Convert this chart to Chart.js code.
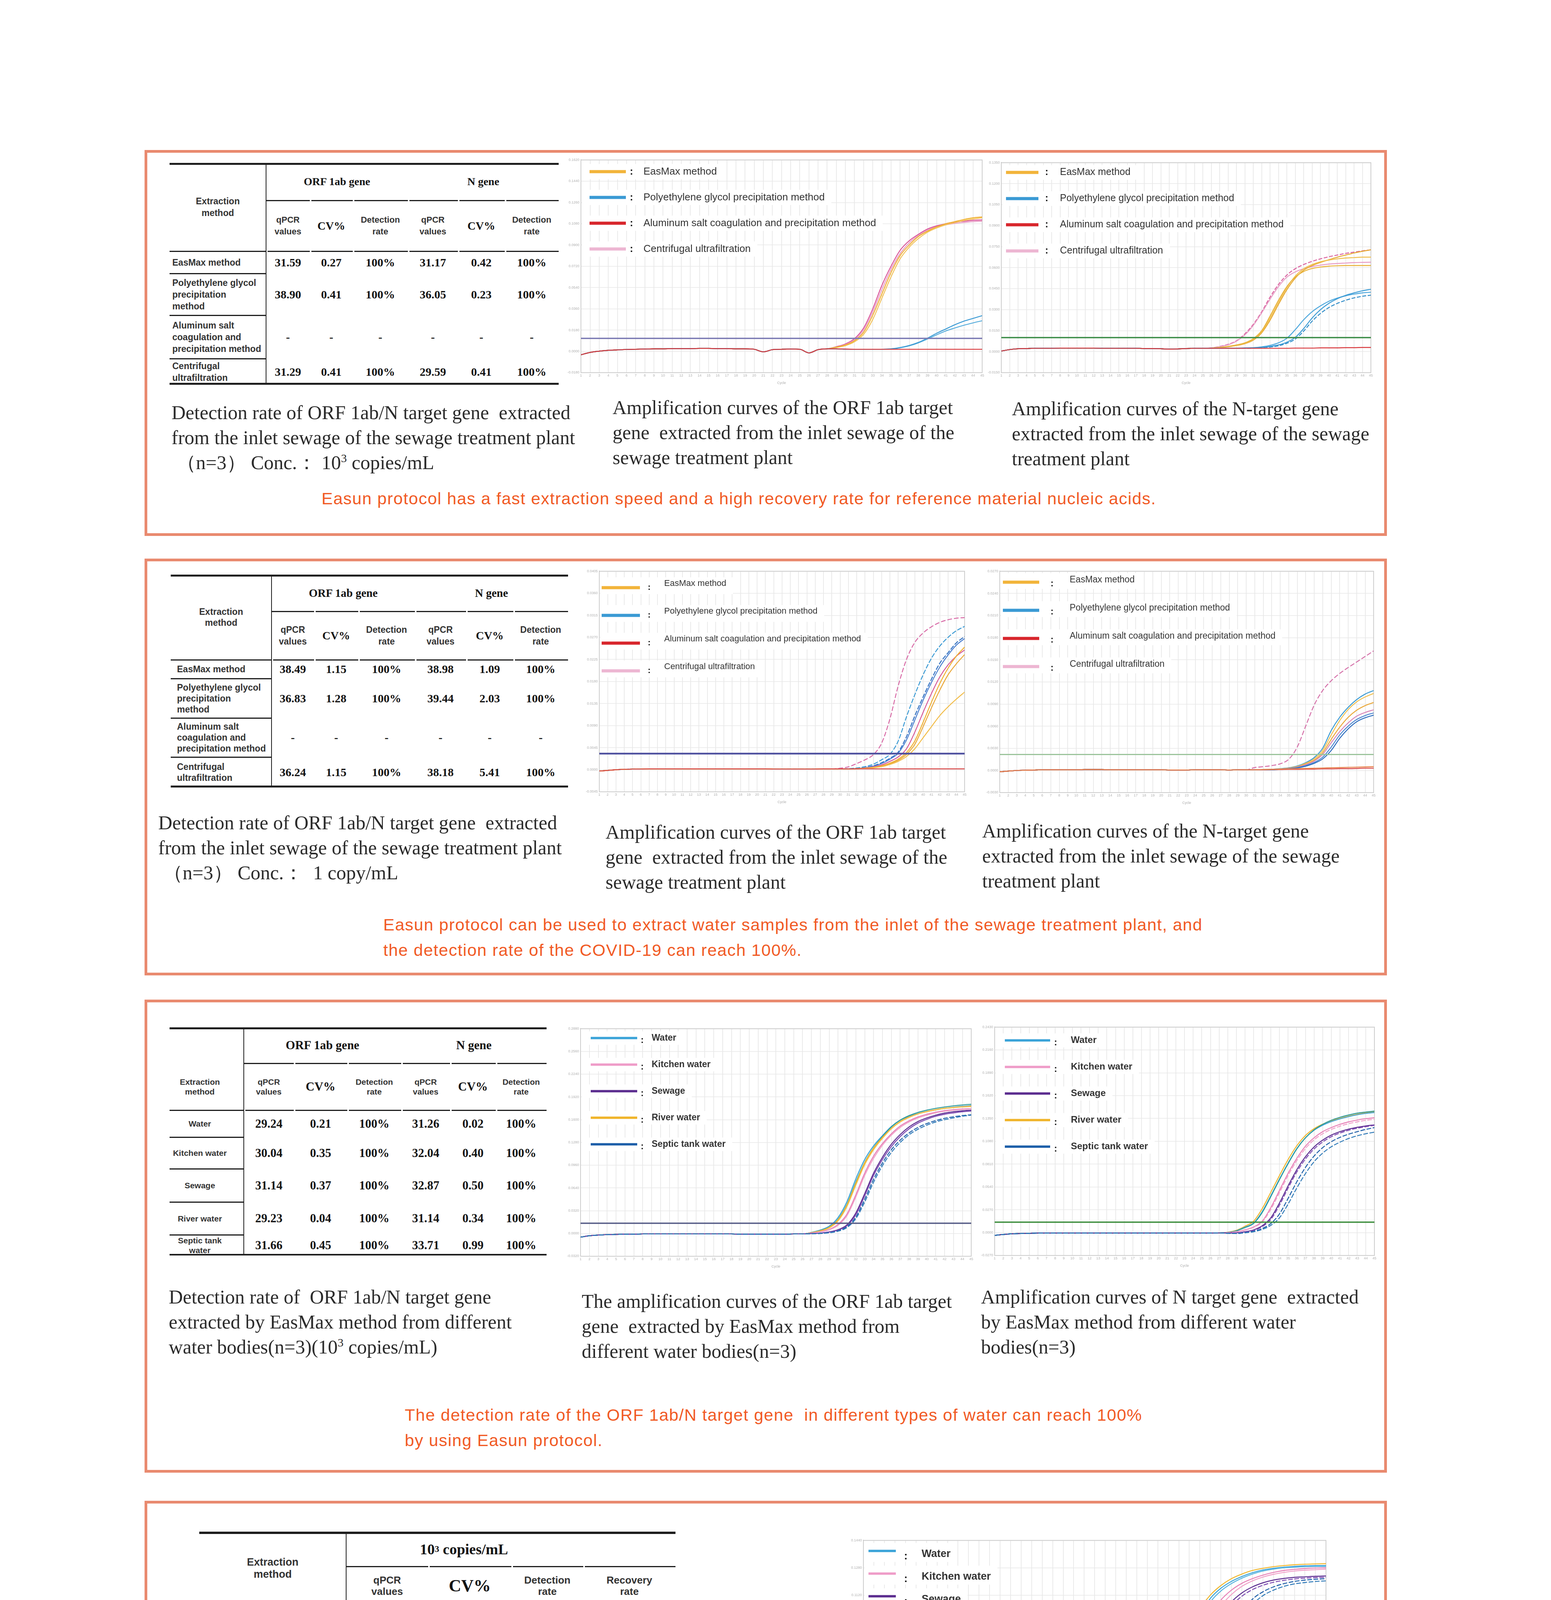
<!DOCTYPE html>
<html>
<head>
<meta charset="utf-8">
<title>Easun protocol - extraction results</title>
<script src="https://cdn.jsdelivr.net/npm/chart.js@4.4.1/dist/chart.umd.min.js"></script>
<style>
  html, body { margin: 0; padding: 0; background: #fff; }
  #page { position: relative; width: 3970px; height: 5386px; overflow: hidden; background: #fff; font-family: "Liberation Sans", Arial, sans-serif; }
  .panel { position: absolute; border: 7px solid #e98a6f; box-sizing: border-box; }
  .cap { position: absolute; font-family: "Liberation Serif", "Times New Roman", serif; font-size: 50px; line-height: 64px; color: #2b2b2b; white-space: nowrap; }
  .cap sup, .tt sup { font-size: 0.6em; line-height: 0; }
  .red { position: absolute; font-size: 43px; line-height: 65px; color: #f15a24; letter-spacing: 1.5px; white-space: nowrap; }
  .chart { position: absolute; }
  .tl { position: absolute; background: #1e1e1e; }
  .tt { position: absolute; display: flex; align-items: center; justify-content: center; text-align: center; white-space: pre; box-sizing: border-box; }
  .sans { font-family: "Liberation Sans", Arial, sans-serif; font-weight: bold; color: #333; }
  .serif { font-family: "Liberation Serif", "Times New Roman", serif; font-weight: bold; color: #141414; }
  #pnum { position: absolute; left: 3702px; top: 5129px; width: 74px; height: 73px; background: #e8836b; color: #fff; font: bold 44px "Liberation Sans", Arial, sans-serif; display: flex; align-items: center; justify-content: center; }
</style>
</head>
<body>
<div id="page">
  <div class="panel" style="left:370px;top:384px;width:3180px;height:988px"></div>
  <div class="panel" style="left:370px;top:1430px;width:3180px;height:1067px"></div>
  <div class="panel" style="left:370px;top:2559px;width:3180px;height:1211px"></div>
  <div class="panel" style="left:370px;top:3842px;width:3180px;height:1149px"></div>

  <div class="chart" style="left:1437px;top:400px;width:1085px;height:586px"><canvas id="p1a"></canvas></div>
  <div class="chart" style="left:2513px;top:407px;width:1004px;height:579px"><canvas id="p1b"></canvas></div>
  <div class="chart" style="left:1484px;top:1453px;width:993px;height:606px"><canvas id="p2a"></canvas></div>
  <div class="chart" style="left:2509px;top:1453px;width:1015px;height:608px"><canvas id="p2b"></canvas></div>
  <div class="chart" style="left:1436px;top:2624px;width:1058px;height:624px"><canvas id="p3a"></canvas></div>
  <div class="chart" style="left:2496px;top:2620px;width:1030px;height:626px"><canvas id="p3b"></canvas></div>
  <div class="chart" style="left:2160px;top:3934px;width:1242px;height:742px"><canvas id="p4"></canvas></div>

  <div class="cap" style="left:439px;top:1024px">Detection rate of ORF 1ab/N target gene&nbsp; extracted<br>from the inlet sewage of the sewage treatment plant<br>&nbsp;（n=3） Conc.： 10<sup>3</sup> copies/mL</div>
  <div class="cap" style="left:1568px;top:1011px">Amplification curves of the ORF 1ab target<br>gene&nbsp; extracted from the inlet sewage of the<br>sewage treatment plant</div>
  <div class="cap" style="left:2590px;top:1014px">Amplification curves of the N-target gene<br>extracted from the inlet sewage of the sewage<br>treatment plant</div>
  <div class="red" style="left:823px;top:1244px">Easun protocol has a fast extraction speed and a high recovery rate for reference material nucleic acids.</div>

  <div class="cap" style="left:405px;top:2074px">Detection rate of ORF 1ab/N target gene&nbsp; extracted<br>from the inlet sewage of the sewage treatment plant<br>&nbsp;（n=3） Conc.：&nbsp; 1 copy/mL</div>
  <div class="cap" style="left:1550px;top:2098px">Amplification curves of the ORF 1ab target<br>gene&nbsp; extracted from the inlet sewage of the<br>sewage treatment plant</div>
  <div class="cap" style="left:2514px;top:2095px">Amplification curves of the N-target gene<br>extracted from the inlet sewage of the sewage<br>treatment plant</div>
  <div class="red" style="left:981px;top:2335px">Easun protocol can be used to extract water samples from the inlet of the sewage treatment plant, and<br>the detection rate of the COVID-19 can reach 100%.</div>

  <div class="cap" style="left:432px;top:3288px">Detection rate of&nbsp; ORF 1ab/N target gene<br>extracted by EasMax method from different<br>water bodies(n=3)(10<sup>3</sup> copies/mL)</div>
  <div class="cap" style="left:1489px;top:3299px">The amplification curves of the ORF 1ab target<br>gene&nbsp; extracted by EasMax method from<br>different water bodies(n=3)</div>
  <div class="cap" style="left:2511px;top:3288px">Amplification curves of N target gene&nbsp; extracted<br>by EasMax method from different water<br>bodies(n=3)</div>
  <div class="red" style="left:1036px;top:3590px">The detection rate of the ORF 1ab/N target gene&nbsp; in different types of water can reach 100%<br>by using Easun protocol.</div>

  <div class="cap" style="left:556px;top:4681px">Detection of Monkeypox virus nucleic acid extracted by<br>EasMax method from different water bodies(n=3)</div>
  <div class="cap" style="left:2068px;top:4667px">Amplification curves of Monkeypox virus nucleic acid extracted<br>by EasMax method from different water bodies(n=3)</div>
  <div class="red" style="left:988px;top:4808px">Easun protocol can detecte different types of water samples, and the results show that the detection<br>rate of monkeypox virus in different types of water can reach 100%.</div>

  <div id="pnum">48</div>
</div>

<script>
// ---------- shared axis values ----------
const cycles = [1,2,3,4,5,6,7,8,9,10,11,12,13,14,15,16,17,18,19,20,21,22,23,24,25,26,27,28,29,30,31,32,33,34,35,36,37,38,39,40,41,42,43,44,45];

const methodNames = ['EasMax method', 'Polyethylene glycol precipitation method', 'Aluminum salt coagulation and precipitation method', 'Centrifugal ultrafiltration'];
const waterNames = ['Water', 'Kitchen water', 'Sewage', 'River water', 'Septic tank water'];
const monkeyNames = ['Water', 'Kitchen water', 'Sewage', 'River water', 'Septic tank water', 'Negative controls'];

// ---------- tables ----------
const t1Methods = ['EasMax method', 'Polyethylene glycol\nprecipitation\nmethod', 'Aluminum salt\ncoagulation and\nprecipitation method', 'Centrifugal\nultrafiltration'];
const t1Orf = [['31.59', '0.27', '100%'], ['38.90', '0.41', '100%'], ['-', '-', '-'], ['31.29', '0.41', '100%']];
const t1N = [['31.17', '0.42', '100%'], ['36.05', '0.23', '100%'], ['-', '-', '-'], ['29.59', '0.41', '100%']];

const t2Methods = ['EasMax method', 'Polyethylene glycol\nprecipitation\nmethod', 'Aluminum salt\ncoagulation and\nprecipitation method', 'Centrifugal\nultrafiltration'];
const t2Orf = [['38.49', '1.15', '100%'], ['36.83', '1.28', '100%'], ['-', '-', '-'], ['36.24', '1.15', '100%']];
const t2N = [['38.98', '1.09', '100%'], ['39.44', '2.03', '100%'], ['-', '-', '-'], ['38.18', '5.41', '100%']];

const t3Samples = ['Water', 'Kitchen water', 'Sewage', 'River water', 'Septic tank\nwater'];
const t3Orf = [['29.24', '0.21', '100%'], ['30.04', '0.35', '100%'], ['31.14', '0.37', '100%'], ['29.23', '0.04', '100%'], ['31.66', '0.45', '100%']];
const t3N = [['31.26', '0.02', '100%'], ['32.04', '0.40', '100%'], ['32.87', '0.50', '100%'], ['31.14', '0.34', '100%'], ['33.71', '0.99', '100%']];

const t4Samples = ['Water', 'Kitchen water', 'Sewage', 'River water', 'Septic tank\nwater'];
const t4Vals = [['26.68', '0.23', '100%', '84.20%'], ['27.48', '0.23', '100%', '48.28%'], ['28.68', '0.61', '100%', '22.17%'], ['26.32', '0.23', '100%', '106.90%'], ['30.01', '0.87', '100%', '9.24%']];

// ---------- panel 1, ORF 1ab curves (cycles 1-28 shared, then 29-45) ----------
const p1aYTicks = ['-0.0180', '0.0000', '0.0180', '0.0360', '0.0540', '0.0720', '0.0900', '0.1080', '0.1260', '0.1440', '0.1620'];
const p1aThreshold = 1.61;
const p1aBase = [0.84,0.95,1.01,1.05,1.07,1.09,1.1,1.11,1.12,1.12,1.13,1.13,1.13,1.14,1.14,1.13,1.13,1.12,1.12,1.1,0.98,1.08,1.1,1.11,1.1,0.93,1.08,1.12];
const p1aEasMax1 = [1.2,1.3,1.5,1.9,2.7,3.7,4.7,5.5,6.0,6.4,6.65,6.85,7.0,7.1,7.2,7.28,7.32];
const p1aEasMax2 = [1.18,1.27,1.45,1.8,2.5,3.5,4.5,5.35,5.9,6.3,6.6,6.8,6.95,7.05,7.15,7.22,7.28];
const p1aCentri1 = [1.22,1.35,1.6,2.1,3.0,4.1,5.0,5.75,6.2,6.5,6.75,6.9,7.0,7.08,7.12,7.16,7.18];
const p1aCentri2 = [1.2,1.32,1.55,2.0,2.85,3.9,4.85,5.6,6.1,6.45,6.7,6.85,6.95,7.02,7.06,7.1,7.12];
const p1aPeg1 = [1.12,1.1,1.1,1.1,1.1,1.1,1.12,1.18,1.28,1.42,1.62,1.85,2.05,2.25,2.42,2.55,2.68];
const p1aPeg2 = [1.12,1.1,1.1,1.1,1.1,1.1,1.11,1.17,1.26,1.4,1.58,1.78,1.96,2.1,2.23,2.34,2.44];
const p1aAlum = [1.12,1.11,1.1,1.1,1.1,1.1,1.1,1.1,1.1,1.1,1.1,1.1,1.1,1.1,1.1,1.1,1.1];

// ---------- panel 1, N gene curves (cycles 1-25 shared, then 26-45) ----------
const p1bYTicks = ['-0.0150', '0.0000', '0.0150', '0.0300', '0.0450', '0.0600', '0.0750', '0.0900', '0.1050', '0.1200', '0.1350'];
const p1bThreshold = 1.67;
const p1bBase = [1.03,1.1,1.14,1.15,1.16,1.16,1.16,1.17,1.17,1.17,1.17,1.17,1.16,1.16,1.16,1.16,1.16,1.15,1.15,1.14,1.12,1.13,1.15,1.16,1.16];
const p1bCentri1 = [1.18,1.25,1.35,1.52,1.85,2.3,2.9,3.6,4.2,4.65,4.95,5.15,5.3,5.42,5.52,5.6,5.68,5.74,5.8,5.85];
const p1bCentri2 = [1.18,1.24,1.33,1.5,1.8,2.25,2.85,3.5,4.1,4.55,4.8,4.95,5.05,5.12,5.17,5.2,5.22,5.24,5.25,5.26];
const p1bEasMax1 = [1.17,1.2,1.25,1.32,1.42,1.62,2.0,2.7,3.45,4.1,4.55,4.82,4.96,5.03,5.07,5.09,5.1,5.1,5.1,5.1];
const p1bEasMax2 = [1.17,1.2,1.24,1.3,1.4,1.58,1.95,2.6,3.35,4.05,4.6,4.95,5.15,5.28,5.36,5.42,5.46,5.48,5.5,5.5];
const p1bEasMax3 = [1.17,1.19,1.23,1.29,1.38,1.55,1.9,2.5,3.25,3.95,4.5,4.88,5.1,5.25,5.38,5.5,5.6,5.7,5.78,5.85];
const p1bPeg1 = [1.16,1.16,1.16,1.16,1.17,1.18,1.2,1.25,1.32,1.45,1.68,2.1,2.6,3.0,3.3,3.52,3.68,3.8,3.9,3.97];
const p1bPeg2 = [1.16,1.16,1.16,1.17,1.18,1.19,1.23,1.3,1.42,1.64,2.05,2.52,2.9,3.18,3.4,3.55,3.66,3.74,3.8,3.83];
const p1bPeg3 = [1.16,1.16,1.16,1.16,1.16,1.17,1.19,1.22,1.28,1.4,1.6,1.98,2.45,2.82,3.1,3.3,3.45,3.56,3.64,3.69];
const p1bAlum = [1.16,1.16,1.16,1.16,1.16,1.16,1.16,1.16,1.16,1.16,1.17,1.17,1.17,1.18,1.18,1.18,1.19,1.19,1.2,1.2];

// ---------- panel 2, ORF 1ab curves (cycles 1-29 shared, then 30-45) ----------
const p2aYTicks = ['-0.0045', '0.0000', '0.0045', '0.0090', '0.0135', '0.0180', '0.0225', '0.0270', '0.0315', '0.0360', '0.0405'];
const p2aThreshold = 1.73;
const p2aBase = [0.94,0.97,1.0,1.02,1.03,1.03,1.04,1.04,1.04,1.04,1.04,1.04,1.04,1.04,1.04,1.04,1.04,1.04,1.04,1.04,1.04,1.03,1.03,1.03,1.03,1.03,1.03,1.04,1.04];
const p2aCentri1 = [1.07,1.13,1.28,1.45,1.68,2.2,3.3,4.8,6.0,6.77,7.2,7.48,7.68,7.8,7.87,7.9];
const p2aCentri2 = [1.04,1.04,1.05,1.08,1.13,1.22,1.38,1.58,1.95,2.7,3.6,4.45,5.2,5.75,6.15,6.43];
const p2aPeg1 = [1.04,1.05,1.08,1.14,1.25,1.45,1.7,2.3,3.4,4.4,5.3,6.05,6.6,7.0,7.3,7.5];
const p2aPeg2 = [1.04,1.04,1.06,1.1,1.18,1.32,1.52,1.8,2.5,3.44,4.3,5.1,5.82,6.3,6.75,7.04];
const p2aPeg3 = [1.04,1.04,1.05,1.09,1.16,1.28,1.48,1.75,2.35,3.25,4.15,4.95,5.65,6.2,6.65,6.95];
const p2aEasMax1 = [1.04,1.04,1.05,1.07,1.11,1.18,1.3,1.48,1.78,2.3,3.15,4.05,4.9,5.6,6.15,6.56];
const p2aEasMax2 = [1.04,1.04,1.04,1.06,1.1,1.16,1.27,1.43,1.7,2.15,2.95,3.8,4.6,5.3,5.8,6.22];
const p2aEasMax3 = [1.04,1.04,1.04,1.06,1.09,1.14,1.24,1.38,1.6,1.95,2.45,2.95,3.45,3.85,4.2,4.52];
const p2aAlum = [1.04,1.04,1.04,1.04,1.04,1.04,1.04,1.04,1.04,1.04,1.04,1.04,1.04,1.04,1.04,1.04];

// ---------- panel 2, N gene curves (cycles 1-30 shared, then 31-45) ----------
const p2bYTicks = ['-0.0030', '0.0000', '0.0030', '0.0060', '0.0090', '0.0120', '0.0150', '0.0180', '0.0210', '0.0240', '0.0270'];
const p2bThreshold = 1.72;
const p2bBase = [0.94,0.97,1.0,1.01,1.02,1.03,1.03,1.03,1.03,1.03,1.04,1.04,1.04,1.03,1.03,1.03,1.03,1.03,1.03,1.03,1.02,1.02,1.02,1.03,1.03,1.03,1.03,1.02,1.03,1.03];
const p2bCentri1 = [1.13,1.17,1.22,1.3,1.5,2.05,3.0,3.95,4.61,5.05,5.38,5.65,5.9,6.15,6.4];
const p2bCentri2 = [1.03,1.03,1.04,1.06,1.09,1.15,1.26,1.42,1.72,2.25,2.75,3.15,3.45,3.62,3.74];
const p2bPeg1 = [1.03,1.04,1.05,1.08,1.12,1.2,1.35,1.58,2.0,2.8,3.4,3.85,4.2,4.45,4.61];
const p2bPeg2 = [1.03,1.03,1.04,1.05,1.08,1.13,1.22,1.36,1.6,2.05,2.6,3.0,3.3,3.48,3.6];
const p2bPeg3 = [1.03,1.03,1.03,1.05,1.07,1.11,1.19,1.32,1.52,1.9,2.45,2.88,3.2,3.38,3.5];
const p2bEasMax1 = [1.03,1.04,1.05,1.07,1.11,1.18,1.32,1.52,1.9,2.6,3.25,3.75,4.1,4.32,4.48];
const p2bEasMax2 = [1.03,1.03,1.04,1.06,1.1,1.16,1.28,1.46,1.8,2.4,2.95,3.4,3.72,3.93,4.07];
const p2bAlum1 = [1.03,1.03,1.04,1.04,1.05,1.05,1.06,1.06,1.07,1.07,1.08,1.08,1.09,1.1,1.1];
const p2bAlum2 = [1.03,1.04,1.05,1.06,1.07,1.08,1.09,1.1,1.11,1.12,1.13,1.14,1.15,1.16,1.17];

// ---------- panel 3, ORF 1ab curves (cycles 1-26 shared, then 27-45) ----------
const p3aYTicks = ['-0.0320', '0.0000', '0.0320', '0.0640', '0.0960', '0.1280', '0.1600', '0.1920', '0.2240', '0.2560', '0.2880'];
const p3aThreshold = 1.45;
const p3aBase = [0.84,0.9,0.93,0.95,0.96,0.97,0.97,0.98,0.98,0.98,0.98,0.98,0.98,0.98,0.98,0.98,0.98,0.98,0.97,0.97,0.97,0.97,0.97,0.97,0.98,0.98];
const p3aWater1 = [1.05,1.15,1.32,1.7,2.4,3.4,4.25,4.85,5.3,5.7,5.98,6.15,6.27,6.36,6.43,6.5,6.55,6.59,6.62];
const p3aWater2 = [1.04,1.13,1.28,1.62,2.28,3.25,4.12,4.76,5.25,5.68,5.98,6.18,6.32,6.42,6.5,6.56,6.61,6.65,6.68];
const p3aKitchen1 = [1.02,1.08,1.18,1.4,1.85,2.7,3.65,4.4,4.95,5.38,5.72,5.95,6.12,6.24,6.33,6.4,6.44,6.47,6.49];
const p3aKitchen2 = [1.02,1.07,1.16,1.36,1.78,2.6,3.55,4.3,4.88,5.32,5.66,5.9,6.08,6.2,6.3,6.37,6.42,6.45,6.48];
const p3aSewage1 = [1.0,1.02,1.07,1.17,1.38,1.9,2.75,3.65,4.35,4.92,5.35,5.68,5.92,6.08,6.2,6.29,6.35,6.39,6.42];
const p3aSewage2 = [1.0,1.02,1.06,1.15,1.34,1.82,2.65,3.55,4.25,4.82,5.26,5.6,5.85,6.02,6.15,6.24,6.3,6.35,6.38];
const p3aRiver1 = [1.04,1.12,1.27,1.6,2.25,3.2,4.1,4.75,5.22,5.62,5.92,6.12,6.26,6.36,6.44,6.5,6.54,6.57,6.6];
const p3aRiver2 = [1.03,1.1,1.24,1.55,2.18,3.12,4.02,4.68,5.18,5.6,5.9,6.1,6.25,6.35,6.43,6.49,6.53,6.56,6.58];
const p3aSeptic1 = [0.99,1.0,1.04,1.12,1.3,1.72,2.5,3.38,4.1,4.68,5.1,5.42,5.66,5.83,5.96,6.06,6.13,6.18,6.22];
const p3aSeptic2 = [0.99,1.0,1.03,1.1,1.26,1.65,2.38,3.25,3.98,4.56,5.0,5.34,5.58,5.76,5.9,6.0,6.08,6.15,6.2];

// ---------- panel 3, N gene curves (cycles 1-27 shared, then 28-45) ----------
const p3bYTicks = ['-0.0270', '0.0000', '0.0270', '0.0540', '0.0810', '0.1080', '0.1350', '0.1620', '0.1890', '0.2160', '0.2430'];
const p3bThreshold = 1.46;
const p3bBase = [0.88,0.92,0.95,0.96,0.97,0.98,0.98,0.98,0.98,0.98,0.98,0.98,0.98,0.98,0.98,0.98,0.98,0.98,0.98,0.98,0.98,0.98,0.98,0.98,0.98,0.98,0.99];
const p3bWater1 = [1.01,1.08,1.24,1.42,1.92,2.62,3.35,4.05,4.68,5.15,5.48,5.7,5.86,5.98,6.08,6.16,6.22,6.26];
const p3bWater2 = [1.01,1.08,1.22,1.4,1.88,2.58,3.32,4.02,4.66,5.15,5.5,5.74,5.92,6.05,6.15,6.23,6.28,6.32];
const p3bKitchen1 = [1.0,1.04,1.12,1.25,1.5,2.1,2.85,3.6,4.25,4.78,5.15,5.42,5.6,5.74,5.85,5.93,5.99,6.03];
const p3bKitchen2 = [1.0,1.04,1.11,1.23,1.46,2.02,2.75,3.5,4.15,4.68,5.06,5.33,5.52,5.66,5.77,5.85,5.92,5.96];
const p3bSewage1 = [0.98,0.99,1.04,1.12,1.3,1.65,2.3,3.05,3.75,4.32,4.75,5.05,5.27,5.42,5.53,5.61,5.67,5.72];
const p3bSewage2 = [0.98,0.99,1.03,1.1,1.26,1.58,2.2,2.95,3.65,4.22,4.66,4.97,5.2,5.36,5.48,5.57,5.64,5.7];
const p3bRiver = [1.02,1.1,1.28,1.5,2.05,2.77,3.5,4.2,4.8,5.25,5.55,5.75,5.9,6.0,6.1,6.18,6.25,6.3];
const p3bSeptic1 = [0.97,0.96,1.0,1.06,1.18,1.4,1.82,2.5,3.22,3.85,4.35,4.72,4.98,5.17,5.31,5.42,5.52,5.6];
const p3bSeptic2 = [0.97,0.96,0.99,1.04,1.14,1.32,1.65,2.25,2.95,3.58,4.1,4.48,4.76,4.96,5.12,5.24,5.33,5.4];

// ---------- panel 4, monkeypox curves (cycles 1-22 shared, then 23-45) ----------
const p4YTicks = ['-0.0160', '0.0000', '0.0160', '0.0320', '0.0480', '0.0640', '0.0800', '0.0960', '0.1120', '0.1280', '0.1440'];
const p4Threshold = 1.54;
const p4Base = [0.9,0.93,0.95,0.96,0.97,0.97,0.97,0.97,0.97,0.97,0.97,0.97,0.97,0.97,0.99,1.08,0.99,0.97,0.97,0.96,0.96,0.96];
const p4Water1 = [1.0,0.99,1.06,1.27,1.65,2.3,3.05,4.05,5.2,6.3,7.28,7.88,8.25,8.5,8.68,8.82,8.92,8.98,9.02,9.05,9.07,9.08,9.08];
const p4Water2 = [0.99,0.98,1.04,1.22,1.55,2.15,2.85,3.8,4.95,6.05,7.1,7.75,8.15,8.42,8.62,8.77,8.88,8.95,9.0,9.02,9.04,9.05,9.05];
const p4Kitchen1 = [0.99,0.98,1.02,1.13,1.35,1.75,2.4,3.25,4.35,5.45,6.5,7.3,7.82,8.18,8.43,8.6,8.73,8.83,8.9,8.94,8.97,8.99,9.0];
const p4Kitchen2 = [0.98,0.97,1.0,1.08,1.25,1.52,2.05,2.8,3.8,4.9,6.0,6.95,7.6,8.02,8.32,8.52,8.66,8.76,8.83,8.88,8.91,8.93,8.95];
const p4Sewage1 = [0.97,0.96,0.98,1.04,1.16,1.38,1.78,2.45,3.35,4.4,5.5,6.5,7.25,7.75,8.08,8.3,8.45,8.55,8.61,8.65,8.67,8.69,8.7];
const p4Sewage2 = [0.97,0.96,0.98,1.03,1.13,1.32,1.66,2.25,3.1,4.12,5.22,6.25,7.05,7.6,7.96,8.2,8.36,8.47,8.54,8.59,8.62,8.64,8.65];
const p4River = [1.02,1.0,1.1,1.35,1.78,2.5,3.3,4.35,5.5,6.55,7.48,8.0,8.35,8.6,8.77,8.9,8.98,9.04,9.08,9.11,9.13,9.14,9.15];
const p4Septic1 = [0.96,0.95,0.96,0.98,1.02,1.1,1.25,1.52,1.98,2.7,3.65,4.75,5.85,6.75,7.4,7.85,8.12,8.3,8.42,8.5,8.55,8.58,8.6];
const p4Septic2 = [0.96,0.95,0.96,0.97,1.0,1.06,1.18,1.4,1.78,2.4,3.3,4.38,5.5,6.45,7.15,7.65,7.98,8.18,8.32,8.41,8.46,8.5,8.52];
const p4Negative = [0.96,0.96,0.96,0.96,0.96,0.97,0.99,1.07,0.99,0.98,0.98,0.98,0.99,0.99,0.99,0.99,1.0,1.0,1.0,1.0,1.0,1.0,1.0];

// ---------- styles ----------
const methodColors = ['#f2b43a', '#3a9ad4', '#d8262c', '#edb6d2'];
const waterColors = ['#3aa3d8', '#ef9cc8', '#5b2c8f', '#f0b429', '#1c5ea8', '#2ea84a'];
const FONT = '"Liberation Sans", Arial, sans-serif';
Chart.defaults.font.family = FONT;

const page = document.getElementById('page');

// legend drawn inside the plot area, top-left, with white mask behind rows
const insideLegend = {
  id: 'insideLegend',
  beforeDatasetsDraw(chart, args, o) {
    if (!o || !o.items) return;
    const {ctx, chartArea: a} = chart;
    const face = (o.bold ? 'bold ' : '') + o.size + 'px ' + FONT;
    ctx.save();
    ctx.textBaseline = 'middle';
    o.items.forEach((it, i) => {
      const cy = a.top + o.y0 + i * o.gap;
      ctx.font = face;
      const w = ctx.measureText(it.label).width;
      ctx.fillStyle = '#ffffff';
      const top = cy - o.size * 0.75 + Math.min(0, o.textDy);
      ctx.fillRect(a.left + 3, top, o.textX + w + 14, o.size * 1.5 + Math.abs(o.textDy));
      ctx.fillStyle = it.color;
      ctx.fillRect(a.left + o.barX, cy - o.barH / 2, o.barW, o.barH);
      ctx.fillStyle = '#111';
      ctx.font = 'bold ' + o.size + 'px ' + FONT;
      ctx.fillText(':', a.left + o.colonX, cy + (o.colonDy || 0));
      ctx.font = face;
      ctx.fillStyle = '#333';
      ctx.fillText(it.label, a.left + o.textX, cy + o.textDy);
    });
    ctx.restore();
  }
};

// light frame round the plot area
const plotFrame = {
  id: 'plotFrame',
  beforeDatasetsDraw(chart) {
    const {ctx, chartArea: a} = chart;
    ctx.save();
    ctx.strokeStyle = '#cdcdcd';
    ctx.lineWidth = 2;
    ctx.strokeRect(a.left, a.top, a.right - a.left, a.bottom - a.top);
    ctx.restore();
  }
};
Chart.register(insideLegend, plotFrame);

function ampChart(id, spec) {
  const datasets = [{
    data: [{x: 1, y: spec.threshold}, {x: 45, y: spec.threshold}],
    borderColor: spec.thrColor, borderWidth: spec.thrWidth, pointRadius: 0
  }];
  spec.curves.forEach(c => datasets.push({
    data: c.base.concat(c.tail),
    borderColor: c.color,
    borderWidth: 2.4,
    borderDash: c.dash || [],
    pointRadius: 0,
    cubicInterpolationMode: 'monotone'
  }));
  const yTicks = spec.yTicks;
  new Chart(document.getElementById(id), {
    type: 'line',
    data: {labels: cycles, datasets},
    options: {
      animation: false,
      responsive: true,
      maintainAspectRatio: false,
      devicePixelRatio: 1,
      layout: {padding: {top: 8, right: 8, left: 0, bottom: 0}},
      plugins: {
        legend: {display: false},
        tooltip: {enabled: false},
        insideLegend: spec.legend
      },
      scales: {
        x: {
          type: 'linear', min: 1, max: 45,
          afterFit: s => { s.height = 32; },
          ticks: {stepSize: 1, autoSkip: false, maxRotation: 0, font: {size: 9}, color: '#b0b0b0', padding: 2},
          grid: {color: '#e3e3e3', lineWidth: 1.5, drawTicks: false},
          border: {color: '#9a9a9a', width: 2},
          title: {display: true, text: 'Cycle', font: {size: 9}, color: '#aaa', padding: 0}
        },
        y: {
          min: 0, max: 10,
          afterFit: s => { s.width = 50; },
          ticks: {stepSize: 1, font: {size: 9}, color: '#b0b0b0', padding: 4, callback: (v, i) => yTicks[i]},
          grid: {color: '#e8e8e8', lineWidth: 1.5, drawTicks: false},
          border: {color: '#9a9a9a', width: 2}
        }
      }
    }
  });
}

function legendItems(names, colors) {
  return names.map((n, i) => ({label: n, color: colors[i]}));
}

// ---------- charts ----------
ampChart('p1a', {
  threshold: p1aThreshold, thrColor: '#7c7bb4', thrWidth: 3.5, yTicks: p1aYTicks,
  legend: {items: legendItems(methodNames, methodColors), barX: 22, barW: 93, barH: 8, colonX: 125, textX: 160, y0: 30, gap: 66, size: 26, bold: false, textDy: 0},
  curves: [
    {base: p1aBase, tail: p1aAlum, color: '#d8383c'},
    {base: p1aBase, tail: p1aPeg1, color: '#3a9ad4'},
    {base: p1aBase, tail: p1aPeg2, color: '#5aaedc'},
    {base: p1aBase, tail: p1aEasMax1, color: '#f0b030'},
    {base: p1aBase, tail: p1aEasMax2, color: '#f2c25a'},
    {base: p1aBase, tail: p1aCentri2, color: '#e79cc4'},
    {base: p1aBase, tail: p1aCentri1, color: '#d9549a'}
  ]
});

ampChart('p1b', {
  threshold: p1bThreshold, thrColor: '#3e8e4a', thrWidth: 3.5, yTicks: p1bYTicks,
  legend: {items: legendItems(methodNames, methodColors), barX: 12, barW: 83, barH: 8, colonX: 112, textX: 150, y0: 25, gap: 67, size: 25, bold: false, textDy: 0},
  curves: [
    {base: p1bBase, tail: p1bAlum, color: '#d8383c'},
    {base: p1bBase, tail: p1bPeg1, color: '#3a9ad4'},
    {base: p1bBase, tail: p1bPeg2, color: '#4aa6dc'},
    {base: p1bBase, tail: p1bPeg3, color: '#2f8cc8', dash: [10, 4]},
    {base: p1bBase, tail: p1bEasMax1, color: '#e8b23a'},
    {base: p1bBase, tail: p1bEasMax2, color: '#f0bf50'},
    {base: p1bBase, tail: p1bEasMax3, color: '#e6a830'},
    {base: p1bBase, tail: p1bCentri2, color: '#e79cc4'},
    {base: p1bBase, tail: p1bCentri1, color: '#d9609e', dash: [10, 4]}
  ]
});

ampChart('p2a', {
  threshold: p2aThreshold, thrColor: '#5052a0', thrWidth: 4.5, yTicks: p2aYTicks,
  legend: {items: legendItems(methodNames, methodColors), barX: 6, barW: 98, barH: 8, colonX: 124, textX: 166, y0: 42, gap: 71, size: 22, bold: false, textDy: -10, colonDy: 0},
  curves: [
    {base: p2aBase, tail: p2aAlum, color: '#d84a4a'},
    {base: p2aBase, tail: p2aEasMax3, color: '#f2bd4a'},
    {base: p2aBase, tail: p2aEasMax2, color: '#eaa83a'},
    {base: p2aBase, tail: p2aEasMax1, color: '#f0b030'},
    {base: p2aBase, tail: p2aCentri2, color: '#d65a9a'},
    {base: p2aBase, tail: p2aPeg3, color: '#4a7fd0'},
    {base: p2aBase, tail: p2aPeg2, color: '#2f6fc0', dash: [12, 4]},
    {base: p2aBase, tail: p2aPeg1, color: '#3a9ad4', dash: [12, 4]},
    {base: p2aBase, tail: p2aCentri1, color: '#d86aa6', dash: [12, 5]}
  ]
});

ampChart('p2b', {
  threshold: p2bThreshold, thrColor: '#9bc49b', thrWidth: 3, yTicks: p2bYTicks,
  legend: {items: legendItems(methodNames, methodColors), barX: 8, barW: 93, barH: 8, colonX: 130, textX: 179, y0: 28, gap: 72, size: 23, bold: false, textDy: -6, colonDy: 4},
  curves: [
    {base: p2bBase, tail: p2bAlum2, color: '#e8804a'},
    {base: p2bBase, tail: p2bAlum1, color: '#d84a4a'},
    {base: p2bBase, tail: p2bPeg3, color: '#2f6fc0'},
    {base: p2bBase, tail: p2bPeg2, color: '#4a86d0'},
    {base: p2bBase, tail: p2bCentri2, color: '#d886b8'},
    {base: p2bBase, tail: p2bEasMax2, color: '#eaa83a'},
    {base: p2bBase, tail: p2bEasMax1, color: '#f0bf50'},
    {base: p2bBase, tail: p2bPeg1, color: '#3a9ad4'},
    {base: p2bBase, tail: p2bCentri1, color: '#d46fa8', dash: [12, 5]}
  ]
});

ampChart('p3a', {
  threshold: p3aThreshold, thrColor: '#565c86', thrWidth: 3.5, yTicks: p3aYTicks,
  legend: {items: legendItems(waterNames, waterColors), barX: 26, barW: 119, barH: 6, colonX: 154, textX: 182, y0: 24, gap: 68, size: 23, bold: true, textDy: 0, colonDy: 6},
  curves: [
    {base: p3aBase, tail: p3aSeptic2, color: '#2f7ab8', dash: [12, 4]},
    {base: p3aBase, tail: p3aSeptic1, color: '#1c5ea8', dash: [12, 4]},
    {base: p3aBase, tail: p3aSewage2, color: '#7a48b0'},
    {base: p3aBase, tail: p3aSewage1, color: '#5b2c8f'},
    {base: p3aBase, tail: p3aKitchen2, color: '#f0a0c8'},
    {base: p3aBase, tail: p3aKitchen1, color: '#e77fb6'},
    {base: p3aBase, tail: p3aRiver2, color: '#f2c050'},
    {base: p3aBase, tail: p3aRiver1, color: '#f0b429'},
    {base: p3aBase, tail: p3aWater2, color: '#2f9a9a'},
    {base: p3aBase, tail: p3aWater1, color: '#3aa3d8'}
  ]
});

ampChart('p3b', {
  threshold: p3bThreshold, thrColor: '#3f8f3f', thrWidth: 3.5, yTicks: p3bYTicks,
  legend: {items: legendItems(waterNames, waterColors), barX: 26, barW: 116, barH: 6, colonX: 152, textX: 195, y0: 34, gap: 68, size: 24, bold: true, textDy: 0, colonDy: 6},
  curves: [
    {base: p3bBase, tail: p3bSeptic2, color: '#2f7ab8', dash: [12, 4]},
    {base: p3bBase, tail: p3bSeptic1, color: '#1c5ea8', dash: [12, 4]},
    {base: p3bBase, tail: p3bSewage2, color: '#7a48b0', dash: [12, 4]},
    {base: p3bBase, tail: p3bSewage1, color: '#5b2c8f'},
    {base: p3bBase, tail: p3bKitchen2, color: '#f0a0c8', dash: [12, 4]},
    {base: p3bBase, tail: p3bKitchen1, color: '#e77fb6'},
    {base: p3bBase, tail: p3bWater2, color: '#2f9a9a'},
    {base: p3bBase, tail: p3bWater1, color: '#3aa3d8'},
    {base: p3bBase, tail: p3bRiver, color: '#f0b429'}
  ]
});

ampChart('p4', {
  threshold: p4Threshold, thrColor: '#2e3c9c', thrWidth: 4.5, yTicks: p4YTicks,
  legend: {items: legendItems(monkeyNames, waterColors), barX: 13, barW: 70, barH: 6, colonX: 104, textX: 149, y0: 27, gap: 58, size: 27, bold: true, textDy: 8, colonDy: 14},
  curves: [
    {base: p4Base, tail: p4Negative, color: '#2ea84a'},
    {base: p4Base, tail: p4Septic2, color: '#2f7ab8', dash: [12, 4]},
    {base: p4Base, tail: p4Septic1, color: '#1c5ea8', dash: [12, 4]},
    {base: p4Base, tail: p4Sewage2, color: '#7a48b0', dash: [12, 4]},
    {base: p4Base, tail: p4Sewage1, color: '#5b2c8f'},
    {base: p4Base, tail: p4Kitchen2, color: '#f0a0c8'},
    {base: p4Base, tail: p4Kitchen1, color: '#e77fb6'},
    {base: p4Base, tail: p4Water2, color: '#5ab4e0'},
    {base: p4Base, tail: p4Water1, color: '#3aa3d8'},
    {base: p4Base, tail: p4River, color: '#f0b429'}
  ]
});

// ---------- tables ----------
function grid(g) {
  const xs = [g.left], ys = [g.top];
  g.cols.forEach(w => xs.push(xs[xs.length - 1] + w));
  g.rows.forEach(h => ys.push(ys[ys.length - 1] + h));
  const add = (cls, css, html) => {
    const d = document.createElement('div');
    d.className = cls;
    for (const k in css) d.style[k] = typeof css[k] === 'number' ? css[k] + 'px' : css[k];
    if (html !== undefined) d.innerHTML = html;
    page.appendChild(d);
  };
  const seg = (c0, c1, y, w) => {
    for (let c = c0; c < c1; c++) {
      const gap = c > c0 ? 4 : 0;
      add('tl', {left: xs[c] + gap, top: y - w / 2, width: xs[c + 1] - xs[c] - gap, height: w});
    }
  };
  const cell = (c0, c1, r0, r1, html, cls, css) =>
    add('tt ' + cls, Object.assign({left: xs[c0], top: ys[r0], width: xs[c1] - xs[c0], height: ys[r1] - ys[r0]}, css || {}), html);
  const frame = () => {
    const nc = g.cols.length, nr = g.rows.length;
    add('tl', {left: xs[0], top: ys[0], width: xs[nc] - xs[0], height: g.topW});
    add('tl', {left: xs[0], top: ys[nr] - g.botW, width: xs[nc] - xs[0], height: g.botW});
    add('tl', {left: xs[1] - 1, top: ys[0], width: 2, height: ys[nr] - ys[0]});
    seg(1, nc, ys[1], g.midW);
    seg(0, nc, ys[2], g.midW);
    for (let r = 3; r < nr; r++) seg(0, 1, ys[r], g.midW);
  };
  return {xs, ys, add, seg, cell, frame};
}

function geneTable(g, labels, orf, n) {
  const t = grid(g);
  t.frame();
  const lab = {fontSize: g.fsLabel, lineHeight: g.lhLabel};
  t.cell(0, 1, g.headRow0, 2, 'Extraction\nmethod', 'sans', Object.assign({paddingRight: g.labelPadR || 0}, lab));
  t.cell(1, 4, 0, 1, 'ORF 1ab gene', 'serif', {fontSize: g.fsGene});
  t.cell(4, 7, 0, 1, 'N gene', 'serif', {fontSize: g.fsGene});
  for (const c of [1, 4]) {
    t.cell(c, c + 1, 1, 2, 'qPCR\nvalues', 'sans', {fontSize: g.fsSub, lineHeight: g.lhSub});
    t.cell(c + 1, c + 2, 1, 2, 'CV%', 'serif', {fontSize: g.fsCv});
    t.cell(c + 2, c + 3, 1, 2, 'Detection\nrate', 'sans', {fontSize: g.fsSub, lineHeight: g.lhSub});
  }
  labels.forEach((m, i) => {
    const left = g.labelAlign === 'left';
    t.cell(0, 1, i + 2, i + 3, m, 'sans', Object.assign({
      justifyContent: left ? 'flex-start' : 'center', textAlign: left ? 'left' : 'center',
      paddingLeft: g.labelPadL || 0, paddingRight: g.labelPadR || 0
    }, lab));
    orf[i].concat(n[i]).forEach((v, j) => t.cell(j + 1, j + 2, i + 2, i + 3, v, 'serif', {fontSize: g.fsVal}));
  });
}

geneTable({left: 434, top: 417, cols: [247, 112, 110, 141, 128, 120, 138], rows: [96, 130, 57, 107, 111, 67],
  topW: 5, botW: 5, midW: 3, fsGene: 28, fsSub: 22, lhSub: 30, fsCv: 29, fsLabel: 23, lhLabel: 30, fsVal: 30,
  labelAlign: 'left', labelPadL: 7, headRow0: 0}, t1Methods, t1Orf, t1N);

geneTable({left: 437, top: 1471, cols: [258, 109, 113, 145, 131, 121, 140], rows: [94, 124, 48, 101, 100, 78],
  topW: 5, botW: 5, midW: 3, fsGene: 29, fsSub: 23, lhSub: 30, fsCv: 29, fsLabel: 23, lhLabel: 28, fsVal: 30,
  labelAlign: 'left', labelPadL: 16, headRow0: 0}, t2Methods, t2Orf, t2N);

geneTable({left: 434, top: 2630, cols: [190, 128, 137, 138, 125, 117, 130], rows: [92, 120, 69, 81, 85, 84, 53],
  topW: 5, botW: 4, midW: 3, fsGene: 31, fsSub: 21, lhSub: 25, fsCv: 31, fsLabel: 21, lhLabel: 25, fsVal: 31,
  labelAlign: 'center', labelPadR: 35, headRow0: 1}, t3Samples, t3Orf, t3N);

(function monkeyTable() {
  const g = {left: 510, top: 3921, cols: [376, 210, 213, 184, 236], rows: [89, 99, 84, 126, 101, 110, 94], topW: 6, botW: 5, midW: 3};
  const t = grid(g);
  t.frame();
  t.cell(0, 1, 0, 2, 'Extraction\nmethod', 'sans', {fontSize: 27, lineHeight: 31});
  t.cell(1, 5, 0, 1, '10<sup>3</sup> copies/mL', 'serif', {fontSize: 38, paddingRight: 240});
  t.cell(1, 2, 1, 2, 'qPCR\nvalues', 'sans', {fontSize: 26, lineHeight: 29});
  t.cell(2, 3, 1, 2, 'CV%', 'serif', {fontSize: 44});
  t.cell(3, 4, 1, 2, 'Detection\nrate', 'sans', {fontSize: 26, lineHeight: 29});
  t.cell(4, 5, 1, 2, 'Recovery\nrate', 'sans', {fontSize: 26, lineHeight: 29});
  t4Samples.forEach((s, i) => {
    t.cell(0, 1, i + 2, i + 3, s, 'sans', {fontSize: 26, lineHeight: 31});
    t4Vals[i].forEach((v, j) => t.cell(j + 1, j + 2, i + 2, i + 3, v, 'serif', {fontSize: 43}));
  });
})();
</script>
</body>
</html>
